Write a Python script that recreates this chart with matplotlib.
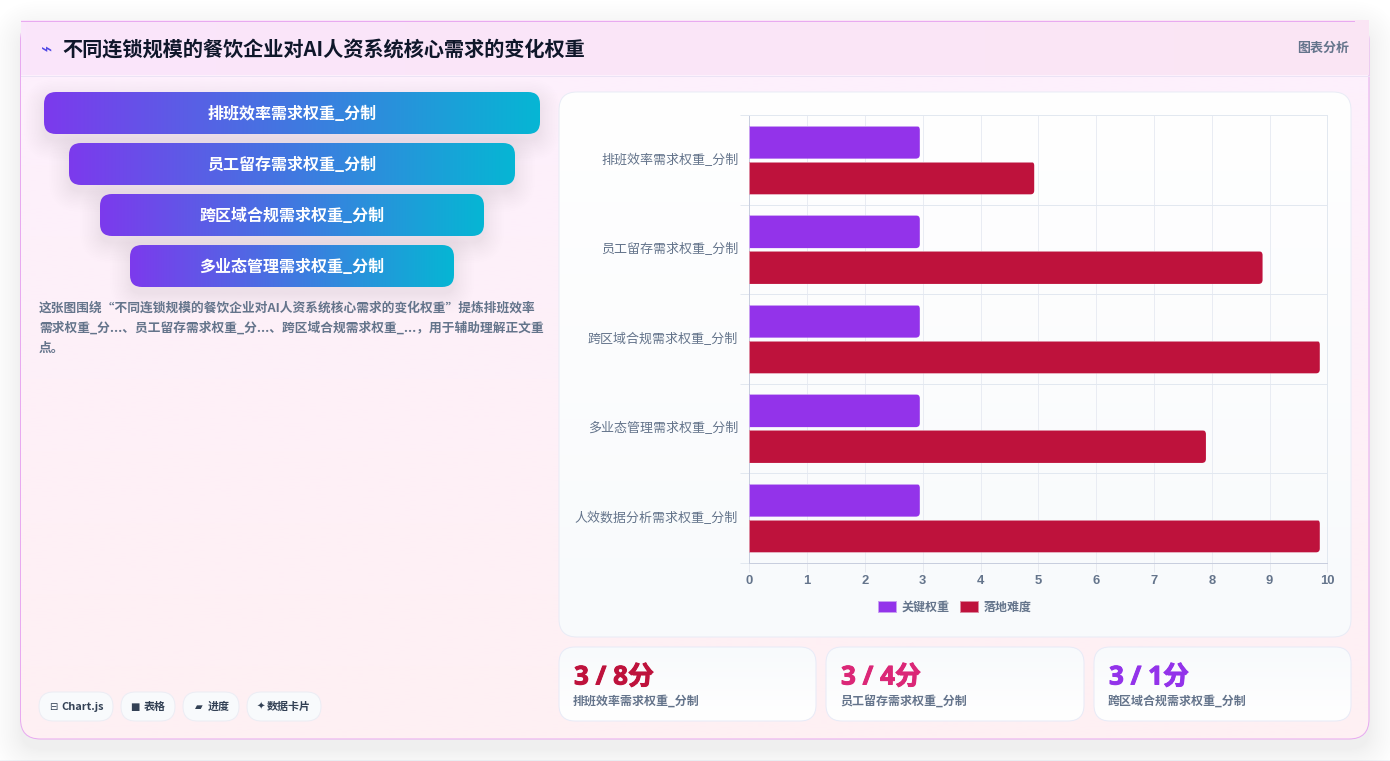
"""Dashboard card: AI HR system demand weights by restaurant chain size."""

import matplotlib

matplotlib.use("Agg")
import matplotlib.patheffects as pe
import matplotlib.pyplot as plt
import numpy as np
from matplotlib.colors import LinearSegmentedColormap
from matplotlib.patches import FancyBboxPatch, Rectangle
from matplotlib.transforms import ScaledTranslation

plt.rcParams["font.family"] = ["Noto Sans CJK SC", "DejaVu Sans"]

W, H = 1390, 761

title = "不同连锁规模的餐饮企业对AI人资系统核心需求的变化权重"
header_tag = "图表分析"
funnel_labels = ["排班效率需求权重_分制", "员工留存需求权重_分制", "跨区域合规需求权重_分制", "多业态管理需求权重_分制"]
description = [
    "这张图围绕“不同连锁规模的餐饮企业对AI人资系统核心需求的变化权重”提炼排班效率",
    "需求权重_分...、员工留存需求权重_分...、跨区域合规需求权重_...，用于辅助理解正文重",
    "点。",
]
chip_icons = ["⊟", "■", "▰", "✦"]
chip_labels = ["Chart.js", "表格", "进度", "数据卡片"]

categories = ["排班效率需求权重_分制", "员工留存需求权重_分制", "跨区域合规需求权重_分制", "多业态管理需求权重_分制", "人效数据分析需求权重_分制"]
key_weight = [2.95, 2.95, 2.95, 2.95, 2.95]
difficulty = [4.93, 8.88, 9.87, 7.9, 9.87]
x_ticks = [0, 1, 2, 3, 4, 5, 6, 7, 8, 9, 10]
series_names = ["关键权重", "落地难度"]

stat_values = ["3 / 8分", "3 / 4分", "3 / 1分"]
stat_labels = ["排班效率需求权重_分制", "员工留存需求权重_分制", "跨区域合规需求权重_分制"]
stat_colors = ["#be123c", "#db2777", "#9333ea"]

PX = 0.72  # pixels to points at dpi 100


def rbox(ax, x0, y0, x1, y1, r, **kw):
    patch = FancyBboxPatch((x0, y0), x1 - x0, y1 - y0, boxstyle=f"round,pad=0,rounding_size={r}", **kw)
    ax.add_patch(patch)
    return patch


def soft_shadow(ax, x0, y0, x1, y1, r, blur, dy, color, total_alpha, zorder=1, steps=16):
    for i in range(steps):
        grow = blur * (1 - i / steps) ** 1.4
        rbox(ax, x0 - grow, y0 - grow + dy, x1 + grow, y1 + grow + dy, r + grow, fc=color, ec="none",
             alpha=total_alpha / steps, zorder=zorder)


def gradient_box(ax, x0, y0, x1, y1, r, colors, horizontal=False, ec="none", lw=0, zorder=2):
    ramp = np.linspace(0, 1, 256)
    ramp = ramp[None, :] if horizontal else ramp[:, None]
    cmap = LinearSegmentedColormap.from_list("ramp", colors)
    im = ax.imshow(ramp, cmap=cmap, extent=(x0, x1, y1, y0), aspect="auto", zorder=zorder, interpolation="bilinear")
    clip = rbox(ax, x0, y0, x1, y1, r, fc="none", ec=ec, lw=lw, zorder=zorder + 0.1)
    im.set_clip_path(clip)


fig = plt.figure(figsize=(W / 100, H / 100), dpi=100, facecolor="white")
ui = fig.add_axes([0, 0, 1, 1], zorder=0)
ui.set_xlim(0, W)
ui.set_ylim(H, 0)
ui.axis("off")

# outer card with its header band
ui.add_patch(Rectangle((0, 760), W, 1, fc="#f1f5f9", ec="none", zorder=0.5))
soft_shadow(ui, 21, 21, 1369, 739, 20, 30, 10, "#0f172a", 0.075)
gradient_box(ui, 20.5, 20.5, 1369, 739, 20, ["#fdf0fd", "#fff0f3"], ec="#e8aaf0", lw=0.72)
ui.imshow(np.linspace(0, 1, 256)[None, :], cmap=LinearSegmentedColormap.from_list("hdr", ["#fae6fb", "#fae5f4"]),
          extent=(21, 1368.5, 75.5, 21), aspect="auto", zorder=3)
ui.plot([21, 1369], [75.5, 75.5], color="#ebe3f5", lw=0.72, zorder=3.1)
ui.plot([21, 1354], [20.8, 20.8], color="#e8aaf0", lw=0.72, zorder=3.1)
ui.set_xlim(0, W)
ui.set_ylim(H, 0)

ui.text(47, 50, "⌁", fontsize=19 * PX, color="#4f46e5", ha="center", va="center", zorder=5, family="DejaVu Sans")
ui.text(62, 49.5, title, fontsize=20.2 * PX, fontweight="bold", color="#0f172a", va="center", zorder=5)
ui.text(1349, 48, header_tag, fontsize=13 * PX, fontweight="bold", color="#64748b", ha="right", va="center", zorder=5)

# funnel steps
funnel_spans = [(44, 540), (69, 515), (100, 484), (130, 454)]
for i, (x0, x1) in enumerate(funnel_spans):
    y0 = 92 + 51 * i
    soft_shadow(ui, x0, y0, x1, y0 + 42, 12, 20, 7, "#4c1d95", 0.07, zorder=2.5)
for i, (label, (x0, x1)) in enumerate(zip(funnel_labels, funnel_spans)):
    y0 = 92 + 51 * i
    gradient_box(ui, x0, y0, x1, y0 + 42, 12, ["#7c3aed", "#06b6d4"], horizontal=True, zorder=3)
    ui.text((x0 + x1) / 2, y0 + 22, label, fontsize=16 * PX, fontweight="bold", color="white",
            ha="center", va="center", zorder=5)

for i, line in enumerate(description):
    ui.text(39, 308 + 20.4 * i, line, fontsize=12.7 * PX, fontweight="bold", color="#64748b", va="center", zorder=5)

# tool chips
chip_spans = [(39, 113), (121, 175), (183, 239), (247, 321)]
icon_x = [53.5, 135, 199, 261]
label_x = [61.5, 143.5, 207.5, 267]
for icon, label, (x0, x1), ix, lx in zip(chip_icons, chip_labels, chip_spans, icon_x, label_x):
    rbox(ui, x0, 692, x1, 721, 14.5, fc="#f8fafc", ec="#ecedf4", lw=0.72, zorder=3)
    ui.text(ix, 707, icon, fontsize=10 * PX, color="#334155", ha="center", va="center", zorder=5, family="DejaVu Sans")
    ui.text(lx, 707, label, fontsize=11 * PX, fontweight="bold", color="#334155", va="center", zorder=5)

# chart panel and stat cards
gradient_box(ui, 559, 92, 1351, 637, 18, ["#ffffff", "#f8fafc"], ec="#e9ecf6", lw=0.72)
stat_spans = [(559, 816), (826, 1084), (1094, 1351)]
for value, label, color, (x0, x1) in zip(stat_values, stat_labels, stat_colors, stat_spans):
    gradient_box(ui, x0, 647, x1, 721, 16, ["#f8fafc", "#ffffff"], ec="#e8ebf7", lw=0.72)
    txt = ui.text(x0 + 15, 677, value, fontsize=26 * PX, fontweight="bold", color=color, va="center", zorder=5,
                  family=["Open Sans", "Noto Sans CJK SC"])
    txt.set_path_effects([pe.withStroke(linewidth=0.7, foreground=color)])
    ui.text(x0 + 14, 701, label, fontsize=12 * PX, fontweight="bold", color="#64748b", va="center", zorder=5)

# grouped horizontal bars
ax = fig.add_axes([749.3 / W, 1 - 562.9 / H, 578 / W, 447.5 / H], zorder=1)
ax.patch.set_alpha(0)
y = np.arange(len(categories))
bar_h = 0.366
offset = 0.2
px_x = 578 / 10
px_y = 447.5 / len(categories)
series = [(key_weight, -offset, "#9333ea", "#c9a0f2"), (difficulty, offset, "#be123c", "#dd8aa0")]
handles = []
for values, shift, color, edge in series:
    bars = ax.barh(y + shift, values, height=bar_h, color=color, edgecolor=edge, linewidth=0.7, zorder=3)
    handles.append(bars)
    for bar in bars:
        # only the outer end of each bar is rounded
        clip = FancyBboxPatch((-1, bar.get_y()), bar.get_width() + 1, bar.get_height(),
                              boxstyle=f"round,pad=0,rounding_size={4 / px_x}", mutation_aspect=px_x / px_y,
                              transform=ax.transData, fc="none", ec="none")
        bar.set_clip_path(clip)

ax.set_xlim(0, 10)
ax.set_ylim(len(categories) - 0.5, -0.5)
ax.set_xticks(x_ticks)
ax.set_yticks(y, categories)
ax.set_yticks(np.arange(len(categories) + 1) - 0.5, minor=True)
ax.grid(axis="x", color="#e9ecf3", lw=0.72, zorder=0)
ax.grid(axis="y", which="minor", color="#e2e8f0", lw=0.72, zorder=0)
ax.grid(axis="y", which="major", visible=False)
ax.tick_params(axis="x", length=9 * PX, color="#e6e9f0", width=0.72, pad=2.5, labelsize=13 * PX, labelcolor="#64748b")
ax.tick_params(axis="y", which="major", length=0, pad=8, labelsize=13 * PX, labelcolor="#64748b")
ax.tick_params(axis="y", which="minor", length=9 * PX, color="#e2e8f0", width=0.72)
for lab in ax.get_xticklabels():
    lab.set_family(["Liberation Sans"])
    lab.set_fontweight("bold")
lift = ScaledTranslation(0, 1.5 / 100, fig.dpi_scale_trans)
for lab in ax.get_yticklabels():
    lab.set_transform(lab.get_transform() + lift)
for side in ["top", "right"]:
    ax.spines[side].set_color("#e2e8f0")
for side in ["left", "bottom"]:
    ax.spines[side].set_color("#c8cede")
for spine in ax.spines.values():
    spine.set_linewidth(0.72)

leg = fig.legend(handles, series_names, loc="center", bbox_to_anchor=(955 / W, 1 - 607 / H), ncol=2, frameon=False,
                 prop={"size": 12 * PX, "weight": "bold"}, handlelength=1.5, handleheight=1.0, handletextpad=0.5,
                 columnspacing=0.85, labelcolor="#64748b", borderpad=0, borderaxespad=0)

fig.savefig("out.png", dpi=100, facecolor="white")
plt.close(fig)
